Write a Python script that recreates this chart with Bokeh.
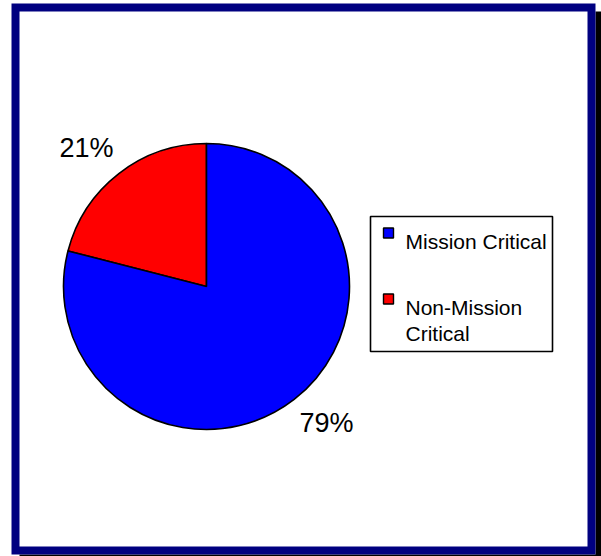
from bokeh.plotting import figure
from bokeh.models import Range1d, ColumnDataSource
from bokeh.core.properties import value
from bokeh.embed import file_html
from bokeh.resources import INLINE

# ---- data ----
categories = ["Mission Critical", "Non-Mission Critical"]
legend_lines = [["Mission Critical"], ["Non-Mission", "Critical"]]
shares = [79, 21]
colors = ["#0000FF", "#FF0000"]

FONT = "Liberation Sans"
W, H = 601, 556
X0, Y0 = 0, 0  # page position of figure top-left


def sx(x):
    return x - X0


def sy(y):
    return (Y0 + H) - y


p = figure(width=W, height=H, output_backend="svg", toolbar_location=None,
           x_range=Range1d(0, W), y_range=Range1d(0, H),
           min_border=0, min_border_left=0, min_border_right=0,
           min_border_top=0, min_border_bottom=0)
p.axis.visible = False
p.grid.visible = False
p.outline_line_color = None
p.background_fill_color = "white"
p.border_fill_color = "white"

# ---- frame with shadow ----
p.quad(left=[sx(19)], right=[sx(603)], top=[sy(11)], bottom=[sy(562)],
       fill_color="black", line_color=None)
p.quad(left=[sx(11)], right=[sx(595)], top=[sy(3)], bottom=[sy(554)],
       fill_color="white", line_color=None)
p.quad(left=[sx(15)], right=[sx(591)], top=[sy(7)], bottom=[sy(550)],
       fill_color=None, line_color="#000080", line_width=8, line_join="miter")

# ---- pie ----
cx, cy, r = sx(206), sy(286), 143
total = float(sum(shares))
# draw counter-clockwise from 12 o'clock, starting with the last category
order = list(range(len(shares)))[::-1]
starts, ends, cols = [], [], []
acc = 90.0
for i in order:
    a = shares[i] / total * 360.0
    starts.append(acc)
    ends.append(acc + a)
    cols.append(colors[i])
    acc += a
src = ColumnDataSource(dict(start=starts, end=ends, color=cols))
p.wedge(x=cx, y=cy, radius=r, radius_units="screen",
        start_angle="start", end_angle="end", start_angle_units="deg",
        end_angle_units="deg", direction="anticlock",
        fill_color="color", line_color="black", line_width=1.6, source=src)

# percentage labels
label_pos = {"Mission Critical": (326, 422), "Non-Mission Critical": (86, 147)}
lx = [sx(label_pos[c][0]) for c in categories]
ly = [sy(label_pos[c][1]) for c in categories]
lt = [f"{v}%" for v in shares]
p.text(x=lx, y=ly, text=lt, text_font=value(FONT), text_font_size="27px",
       text_align="center", text_baseline="middle", text_color="black")

# ---- legend ----
p.quad(left=[sx(370)], right=[sx(552)], top=[sy(216)], bottom=[sy(351)],
       fill_color="white", line_color="black", line_width=1.6)
sq_y = [232.5, 298.5]
p.rect(x=[sx(388)] * 2, y=[sy(v) for v in sq_y], width=10, height=10,
       width_units="screen", height_units="screen",
       fill_color=colors, line_color="black", line_width=1.4)
baselines = [[241], [307, 333]]
tx, ty, tt = [], [], []
for lines, bl in zip(legend_lines, baselines):
    for t, b in zip(lines, bl):
        tx.append(sx(405))
        ty.append(sy(b))
        tt.append(t)
p.text(x=tx, y=ty, text=tt, text_font=value(FONT), text_font_size="21px",
       text_align="left", text_baseline="alphabetic", text_color="black")

open("out.html", "w").write(file_html(p, INLINE))
